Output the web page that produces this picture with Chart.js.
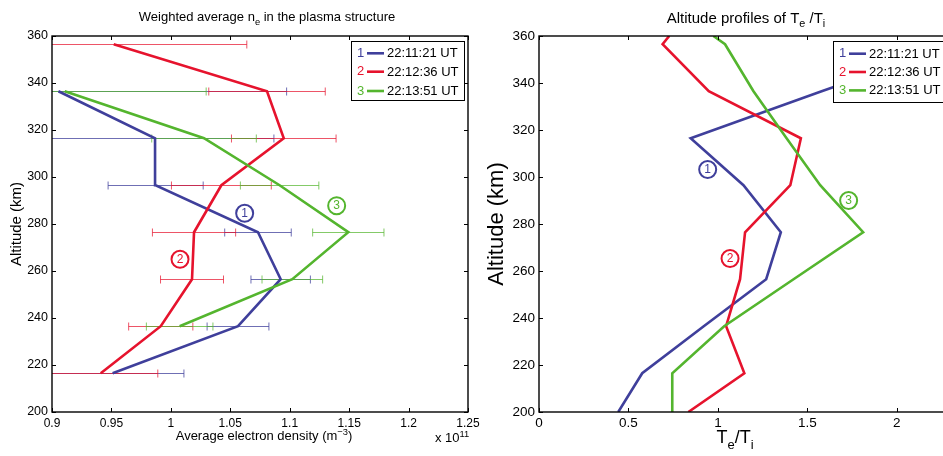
<!DOCTYPE html>
<html>
<head>
<meta charset="utf-8">
<script src="https://cdn.jsdelivr.net/npm/chart.js@4.4.1/dist/chart.umd.min.js"></script>
<style>
html,body{margin:0;padding:0;overflow:hidden;background:#fff;width:943px;height:456px}
.box{position:absolute;top:0;height:456px}
</style>
</head>
<body>
<div class="box" style="left:0;width:480px"><canvas id="left"></canvas></div>
<div class="box" style="left:480px;width:480px"><canvas id="right"></canvas></div>
<script>
// ---------- data ----------
const seriesNumbers = ['1', '2', '3'];
const seriesNames = ['22:11:21 UT', '22:12:36 UT', '22:13:51 UT'];

// left panel: weighted average electron density (x 1e11 m^-3) vs altitude (km)
const altitudes = [216.5, 236.5, 256.5, 276.5, 296.5, 316.5, 336.5, 356.5];
const neBlue     = [0.951, 1.0565, 1.0924, 1.0733, 0.9872, 0.9867, 0.9054, null];
const neBlueErr  = [0.060, 0.026, 0.025, 0.028, 0.040, 0.100, 0.192, null];
const neRed      = [0.941, 0.9915, 1.0178, 1.0195, 1.0425, 1.095, 1.0809, 0.9519];
const neRedErr   = [0.048, 0.027, 0.0265, 0.035, 0.042, 0.044, 0.049, 0.112];
const neGreen    = [null, 1.0074, 1.1022, 1.1493, 1.0915, 1.0279, 0.9107, null];
const neGreenErr = [null, 0.028, 0.0255, 0.030, 0.033, 0.044, 0.119, null];

// right panel: Te/Ti vs altitude (km)
const ratioAltitudes = [200, 216.5, 236.5, 256.5, 276.5, 296.5, 316.5, 336.5, 356.5, 360];
const ratioBlue  = [0.443, 0.577, 0.921, 1.270, 1.352, 1.143, 0.848, 1.58, 2.33, null];
const ratioRed   = [0.835, 1.148, 1.046, 1.124, 1.152, 1.405, 1.464, 0.949, 0.691, 0.728];
const ratioGreen = [0.745, 0.745, 1.035, 1.423, 1.812, 1.572, 1.384, 1.199, 1.040, 0.975];

// ticks
const altTicks = [200, 220, 240, 260, 280, 300, 320, 340, 360];
const altTickLabels = ['200', '220', '240', '260', '280', '300', '320', '340', '360'];
const neTicks = [0.9, 0.95, 1, 1.05, 1.1, 1.15, 1.2, 1.25];
const neTickLabels = ['0.9', '0.95', '1', '1.05', '1.1', '1.15', '1.2', '1.25'];
const ratioTicks = [0, 0.5, 1, 1.5, 2];
const ratioTickLabels = ['0', '0.5', '1', '1.5', '2'];

// circled curve labels (data units)
const neMarkerX = [1.0621, 1.0077, 1.1395];
const neMarkerY = [284.6, 265.0, 287.8];
const ratioMarkerX = [0.943, 1.068, 1.731];
const ratioMarkerY = [303.2, 265.3, 290.0];

// ---------- styles ----------
const FONT = '"Liberation Sans", Arial, Helvetica, sans-serif';
const COLORS = ['#3f3f9b', '#e6132d', '#54b52e'];
const ERRCOLORS = ['rgba(63,63,155,0.75)', 'rgba(230,19,45,0.72)', 'rgba(84,181,46,0.72)'];
const ORDERS = [2, 1, 0];

function pts(xs, ys) {
  const out = [];
  for (let i = 0; i < ys.length; i++) if (xs[i] != null) out.push({x: xs[i], y: ys[i]});
  return out;
}

function drawRich(ctx, segs, x, y, size, align) {
  let w = 0;
  const ws = segs.map(s => {
    ctx.font = (s[1] ? size * 0.72 : size) + 'px ' + FONT;
    const m = ctx.measureText(s[0]).width; w += m; return m;
  });
  let cx = align === 'center' ? x - w / 2 : (align === 'right' ? x - w : x);
  ctx.textAlign = 'left'; ctx.textBaseline = 'alphabetic';
  segs.forEach((s, i) => {
    ctx.font = (s[1] ? size * 0.72 : size) + 'px ' + FONT;
    const dy = s[1] === 1 ? size * 0.33 : (s[1] === 2 ? -size * 0.4 : 0);
    ctx.fillText(s[0], cx, y + dy);
    cx += ws[i];
  });
}

function makePlugin(cfg) {
  return {
    id: 'decor',
    beforeDatasetsDraw(chart) {
      if (!cfg.errors) return;
      const ctx = chart.ctx, a = chart.chartArea, xs = chart.scales.x, ys = chart.scales.y;
      ctx.save();
      ctx.beginPath(); ctx.rect(a.left, a.top - 5, a.right - a.left, a.bottom - a.top + 10); ctx.clip();
      ctx.lineWidth = 1;
      cfg.errors.forEach((ser, si) => {
        const vals = ser[0], errs = ser[1];
        ctx.strokeStyle = ERRCOLORS[si];
        for (let j = 0; j < vals.length; j++) {
          if (vals[j] == null) continue;
          const y = Math.round(ys.getPixelForValue(cfg.alts[j])) + 0.5;
          const x1 = xs.getPixelForValue(vals[j] - errs[j]);
          const x2 = xs.getPixelForValue(vals[j] + errs[j]);
          ctx.beginPath();
          ctx.moveTo(x1, y); ctx.lineTo(x2, y);
          ctx.moveTo(x1, y - 4); ctx.lineTo(x1, y + 4);
          ctx.moveTo(x2, y - 4); ctx.lineTo(x2, y + 4);
          ctx.stroke();
        }
      });
      ctx.restore();
    },
    afterDatasetsDraw(chart) {
      const ctx = chart.ctx, a = chart.chartArea, xs = chart.scales.x, ys = chart.scales.y;
      ctx.save();
      // frame
      ctx.strokeStyle = '#000'; ctx.lineWidth = 1.4;
      ctx.strokeRect(a.left, a.top, a.right - a.left, a.bottom - a.top);
      // inward ticks
      ctx.lineWidth = 1;
      ctx.beginPath();
      cfg.xticks.forEach(v => {
        const x = Math.round(xs.getPixelForValue(v)) + 0.5;
        ctx.moveTo(x, a.bottom); ctx.lineTo(x, a.bottom - 4);
        ctx.moveTo(x, a.top); ctx.lineTo(x, a.top + 4);
      });
      altTicks.forEach(v => {
        const y = Math.round(ys.getPixelForValue(v)) + 0.5;
        ctx.moveTo(a.left, y); ctx.lineTo(a.left + 4, y);
        ctx.moveTo(a.right, y); ctx.lineTo(a.right - 4, y);
      });
      ctx.stroke();
      // circled labels
      cfg.markers[0].forEach((mx, i) => {
        const px = xs.getPixelForValue(mx), py = ys.getPixelForValue(cfg.markers[1][i]);
        ctx.strokeStyle = COLORS[i]; ctx.lineWidth = 2;
        ctx.beginPath(); ctx.arc(px, py, 8.5, 0, Math.PI * 2); ctx.stroke();
        ctx.fillStyle = COLORS[i]; ctx.font = '12px ' + FONT;
        ctx.textAlign = 'center'; ctx.textBaseline = 'middle';
        ctx.fillText(seriesNumbers[i], px, py + 0.5);
      });
      // legend
      const L = cfg.legend;
      const lx = a.right - 4 - L.w, ly = a.top + 5;
      ctx.fillStyle = '#fff'; ctx.fillRect(lx, ly, L.w, L.h);
      ctx.strokeStyle = '#000'; ctx.lineWidth = 1;
      ctx.strokeRect(Math.round(lx) + 0.5, Math.round(ly) + 0.5, L.w, L.h);
      ctx.textBaseline = 'middle';
      seriesNames.forEach((nm, i) => {
        const ry = ly + L.rows[i];
        ctx.font = '13px ' + FONT; ctx.textAlign = 'center'; ctx.fillStyle = COLORS[i];
        ctx.fillText(seriesNumbers[i], lx + 9.5, ry);
        ctx.strokeStyle = COLORS[i]; ctx.lineWidth = 2.6;
        ctx.beginPath(); ctx.moveTo(lx + 16, ry); ctx.lineTo(lx + 33, ry); ctx.stroke();
        ctx.fillStyle = '#000'; ctx.textAlign = 'left';
        ctx.fillText(nm, lx + 36, ry + 0.5);
      });
      // titles and axis labels
      ctx.fillStyle = '#000';
      drawRich(ctx, cfg.title.segs, cfg.title.x, cfg.title.y, cfg.title.size, 'center');
      drawRich(ctx, cfg.xlabel.segs, cfg.xlabel.x, cfg.xlabel.y, cfg.xlabel.size, 'center');
      if (cfg.exp) drawRich(ctx, cfg.exp.segs, cfg.exp.x, cfg.exp.y, cfg.exp.size, 'left');
      ctx.save();
      ctx.translate(cfg.ylabel.x, (a.top + a.bottom) / 2);
      ctx.rotate(-Math.PI / 2);
      ctx.font = cfg.ylabel.size + 'px ' + FONT;
      ctx.textAlign = 'center'; ctx.textBaseline = 'middle';
      ctx.fillText('Altitude (km)', 0, 0);
      ctx.restore();
      ctx.restore();
    }
  };
}

function axis(min, max, ticks, labels, size, pad, fitKey, fitVal) {
  return {
    type: 'linear', min: min, max: max,
    afterBuildTicks: s => { s.ticks = ticks.map(v => ({value: v})); },
    ticks: {
      callback: (v) => labels[ticks.indexOf(v)],
      font: {family: FONT, size: size}, color: '#000', padding: pad,
      maxRotation: 0, autoSkip: false, includeBounds: false
    },
    grid: {display: false, drawTicks: false},
    border: {display: false},
    afterFit: s => {
      s[fitKey] = fitVal;
      s.paddingLeft = 0; s.paddingRight = 0; s.paddingTop = 0; s.paddingBottom = 0;
    }
  };
}

function ds(data, i) {
  return {data: data, showLine: true, borderColor: COLORS[i], backgroundColor: COLORS[i],
          borderWidth: 2.6, pointRadius: 0, pointHoverRadius: 0, fill: false, tension: 0,
          order: ORDERS[i], borderJoinStyle: 'miter'};
}

Chart.defaults.font.family = FONT;
Chart.defaults.color = '#000';

new Chart(document.getElementById('left'), {
  type: 'scatter',
  data: {datasets: [
    ds(pts(neBlue, altitudes), 0),
    ds(pts(neRed, altitudes), 1),
    ds(pts(neGreen, altitudes), 2)
  ]},
  options: {
    responsive: true, maintainAspectRatio: false, animation: false,
    layout: {padding: {top: 36, right: 12, left: 0, bottom: 0}},
    plugins: {legend: {display: false}, tooltip: {enabled: false}},
    scales: {
      x: axis(0.9, 1.25, neTicks, neTickLabels, 12, 4, 'height', 44),
      y: axis(200, 360, altTicks, altTickLabels, 12.5, 4, 'width', 52)
    }
  },
  plugins: [makePlugin({
    alts: altitudes,
    errors: [[neBlue, neBlueErr], [neRed, neRedErr], [neGreen, neGreenErr]],
    xticks: neTicks,
    markers: [neMarkerX, neMarkerY],
    legend: {w: 113, h: 59, rows: [12.3, 30.7, 50]},
    title: {segs: [['Weighted average n', 0], ['e', 1], [' in the plasma structure', 0]], x: 267, y: 20.5, size: 13},
    xlabel: {segs: [['Average electron density (m', 0], ['\u22123', 2], [')', 0]], x: 264, y: 440, size: 13},
    exp: {segs: [['x 10', 0], ['11', 2]], x: 435, y: 442, size: 13},
    ylabel: {x: 17, size: 15}
  })]
});

new Chart(document.getElementById('right'), {
  type: 'scatter',
  data: {datasets: [
    ds(pts(ratioBlue, ratioAltitudes), 0),
    ds(pts(ratioRed, ratioAltitudes), 1),
    ds(pts(ratioGreen, ratioAltitudes), 2)
  ]},
  options: {
    responsive: true, maintainAspectRatio: false, animation: false,
    layout: {padding: {top: 36, right: 6, left: 0, bottom: 0}},
    plugins: {legend: {display: false}, tooltip: {enabled: false}},
    scales: {
      x: axis(0, 2.32, ratioTicks, ratioTickLabels, 13.5, 3, 'height', 44),
      y: axis(200, 360, altTicks, altTickLabels, 13.5, 4, 'width', 59)
    }
  },
  plugins: [makePlugin({
    xticks: ratioTicks,
    markers: [ratioMarkerX, ratioMarkerY],
    legend: {w: 117, h: 61, rows: [12.7, 31, 49.4]},
    title: {segs: [['Altitude profiles of T', 0], ['e', 1], [' /T', 0], ['i', 1]], x: 266, y: 22.5, size: 15},
    xlabel: {segs: [['T', 0], ['e', 1], ['/T', 0], ['i', 1]], x: 255, y: 443, size: 18},
    ylabel: {x: 17, size: 22}
  })]
});
</script>
</body>
</html>
